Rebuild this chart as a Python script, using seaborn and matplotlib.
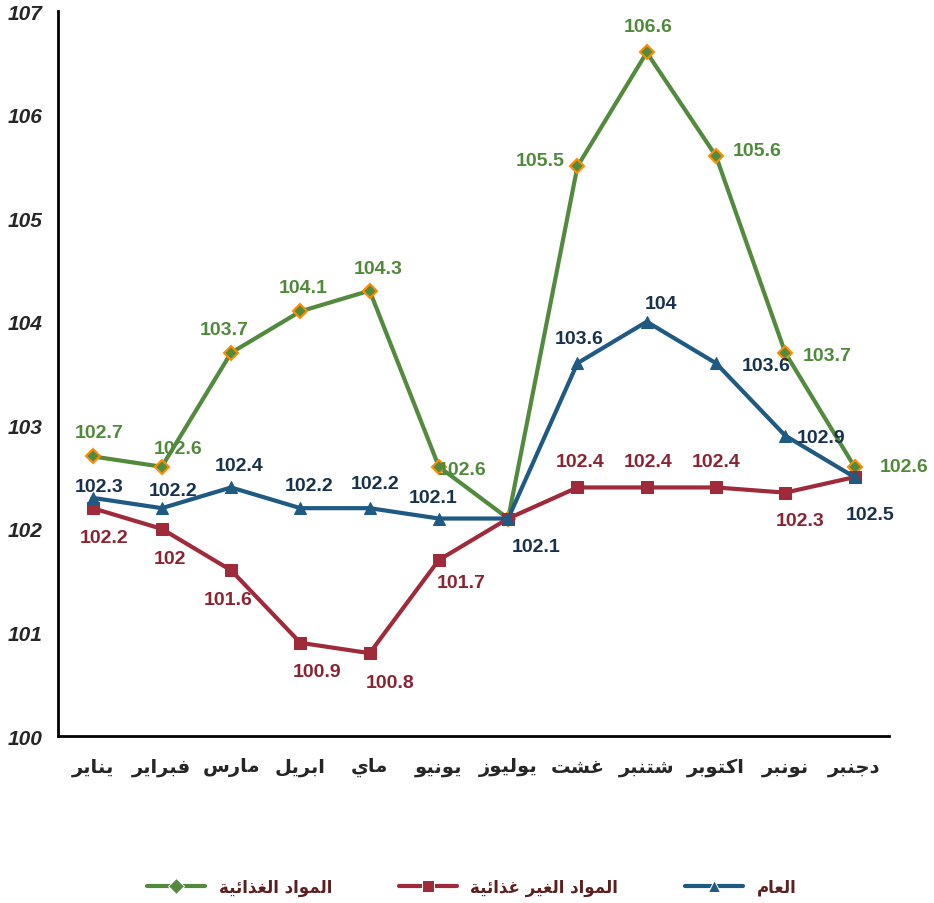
import numpy as np
import pandas as pd
import seaborn as sns
import matplotlib.pyplot as plt
from matplotlib.ticker import FixedLocator

months = ['يناير', 'فبراير', 'مارس', 'ابريل', 'ماي', 'يونيو',
          'يوليوز', 'غشت', 'شتنبر', 'اكتوبر', 'نونبر', 'دجنبر']
food = [102.7, 102.6, 103.7, 104.1, 104.3, 102.6, 102.1, 105.5, 106.6, 105.6, 103.7, 102.6]
non_food = [102.2, 102.0, 101.6, 100.9, 100.8, 101.7, 102.1, 102.4, 102.4, 102.4, 102.35, 102.5]
general = [102.3, 102.2, 102.4, 102.2, 102.2, 102.1, 102.1, 103.6, 104.0, 103.6, 102.9, 102.5]
food_lbl = ['102.7', '102.6', '103.7', '104.1', '104.3', '102.6', '', '105.5', '106.6', '105.6', '103.7', '102.6']
non_food_lbl = ['102.2', '102', '101.6', '100.9', '100.8', '101.7', '', '102.4', '102.4', '102.4', '102.3', '']
general_lbl = ['102.3', '102.2', '102.4', '102.2', '102.2', '102.1', '102.1', '103.6', '104', '103.6', '102.9', '102.5']
series_names = ['المواد الغذائية', 'المواد الغير غذائية', 'العام']

# Arabic presentation forms: isolated, final, initial, medial
FORMS = {
    'ا': ('\uFE8D', '\uFE8E', None, None),
    'ب': ('\uFE8F', '\uFE90', '\uFE91', '\uFE92'),
    'ة': ('\uFE93', '\uFE94', None, None),
    'ت': ('\uFE95', '\uFE96', '\uFE97', '\uFE98'),
    'ج': ('\uFE9D', '\uFE9E', '\uFE9F', '\uFEA0'),
    'د': ('\uFEA9', '\uFEAA', None, None),
    'ذ': ('\uFEAB', '\uFEAC', None, None),
    'ر': ('\uFEAD', '\uFEAE', None, None),
    'ز': ('\uFEAF', '\uFEB0', None, None),
    'س': ('\uFEB1', '\uFEB2', '\uFEB3', '\uFEB4'),
    'ش': ('\uFEB5', '\uFEB6', '\uFEB7', '\uFEB8'),
    'ع': ('\uFEC9', '\uFECA', '\uFECB', '\uFECC'),
    'غ': ('\uFECD', '\uFECE', '\uFECF', '\uFED0'),
    'ف': ('\uFED1', '\uFED2', '\uFED3', '\uFED4'),
    'ك': ('\uFED9', '\uFEDA', '\uFEDB', '\uFEDC'),
    'ل': ('\uFEDD', '\uFEDE', '\uFEDF', '\uFEE0'),
    'م': ('\uFEE1', '\uFEE2', '\uFEE3', '\uFEE4'),
    'ن': ('\uFEE5', '\uFEE6', '\uFEE7', '\uFEE8'),
    'و': ('\uFEED', '\uFEEE', None, None),
    'ي': ('\uFEF1', '\uFEF2', '\uFEF3', '\uFEF4'),
    'ئ': ('\uFE89', '\uFE8A', '\uFE8B', '\uFE8C'),
}


def shape(s):
    # matplotlib has no bidi/shaping, so pick joined forms and reverse
    out = []
    for i, c in enumerate(s):
        if c not in FORMS:
            out.append(c)
            continue
        prev = s[i - 1] if i > 0 else None
        nxt = s[i + 1] if i < len(s) - 1 else None
        jp = prev in FORMS and FORMS[prev][2] is not None
        jn = FORMS[c][2] is not None and nxt in FORMS
        iso, fin, ini, med = FORMS[c]
        out.append(med if jp and jn else fin if jp else ini if jn else iso)
    return ''.join(reversed(out))


sns.set_style('white')
plt.rcParams['font.family'] = ['Liberation Sans', 'DejaVu Sans']

colors = {'food': '#538b3e', 'non': '#9e2a3a', 'gen': '#1f5a82'}
label_colors = {'food': '#4f8a3a', 'non': '#8a2433', 'gen': '#17324d'}

x = np.arange(len(months))
df = pd.DataFrame({
    'x': np.tile(x, 3),
    'value': food + non_food + general,
    'series': np.repeat(['food', 'non', 'gen'], len(months)),
})

fig = plt.figure(figsize=(9.34, 9.04), dpi=100)
ax = fig.add_axes([0.062, 0.1847, 0.89, 0.802])

sns.lineplot(data=df, x='x', y='value', hue='series', style='series',
             palette=colors, markers={'food': 'D', 'non': 's', 'gen': '^'},
             dashes=False, linewidth=3, markersize=8, ax=ax, legend=True)

for line in ax.lines[:3]:
    c = line.get_color()
    if c == colors['food']:
        line.set_markerfacecolor('#538b3e')
        line.set_markeredgecolor('#ff8c00')
        line.set_markeredgewidth(1.5)
        line.set_markersize(7)
    elif c == colors['non']:
        line.set_markeredgecolor(c)
        line.set_markersize(8)
    else:
        line.set_markeredgecolor(c)
        line.set_markersize(9)

# data labels (offsets in points)
food_off = [(5, 17), (12, 13), (-5, 17), (2, 17), (6, 16), (17, -2), (0, 0), (-27, 4), (1, 19), (30, 4), (30, -2), (36, 0)]
non_off = [(8, -21), (6, -21), (-2, -21), (12, -21), (15, -21), (16, -16), (0, 0), (2, 19), (1, 19), (0, 19), (11, -20), (0, 0)]
gen_off = [(5, 8), (8, 13), (6, 16), (6, 16), (4, 18), (-4, 15), (20, -20), (1, 18), (10, 13), (36, -2), (26, -1), (11, -27)]
for vals, labs, offs, key in [(food, food_lbl, food_off, 'food'),
                              (non_food, non_food_lbl, non_off, 'non'),
                              (general, general_lbl, gen_off, 'gen')]:
    for xi, v, t, o in zip(x, vals, labs, offs):
        if t:
            ax.annotate(t, (xi, v), xytext=o, textcoords='offset points',
                        ha='center', va='center', fontsize=14, fontweight='bold',
                        color=label_colors[key])

ax.set_xlim(-0.5, len(months) - 0.5)
ax.set_ylim(100, 107)
ax.set_yticks(range(100, 108))
ax.set_yticklabels([str(v) for v in range(100, 108)], fontsize=15,
                   fontweight='bold', fontstyle='italic')
ax.xaxis.set_major_locator(FixedLocator(np.arange(-0.5, len(months))))
ax.set_xticklabels([])
ax.xaxis.set_minor_locator(FixedLocator(x))
ax.set_xticklabels([shape(m) for m in months], minor=True, fontsize=14,
                   fontweight='bold', family=['DejaVu Sans'])
ax.tick_params(axis='x', which='minor', length=0, pad=15)
ax.tick_params(axis='both', which='major', direction='inout', length=10, width=2, color='black')
ax.tick_params(axis='y', pad=6)
ax.set_xlabel('')
ax.set_ylabel('')
for s in ['top', 'right']:
    ax.spines[s].set_visible(False)
for s in ['left', 'bottom']:
    ax.spines[s].set_color('black')
    ax.spines[s].set_linewidth(2)
ax.grid(False)

handles, _ = ax.get_legend_handles_labels()
ax.get_legend().remove()
leg = fig.legend(handles, [shape(n) for n in series_names], loc='center',
                 bbox_to_anchor=(0.505, 0.018), ncol=3, frameon=False,
                 columnspacing=4, handlelength=3.5,
                 prop={'family': 'DejaVu Sans', 'weight': 'bold', 'size': 12})
for txt in leg.get_texts():
    txt.set_color('#5c1f1f')

fig.savefig('out.png', dpi=100)
